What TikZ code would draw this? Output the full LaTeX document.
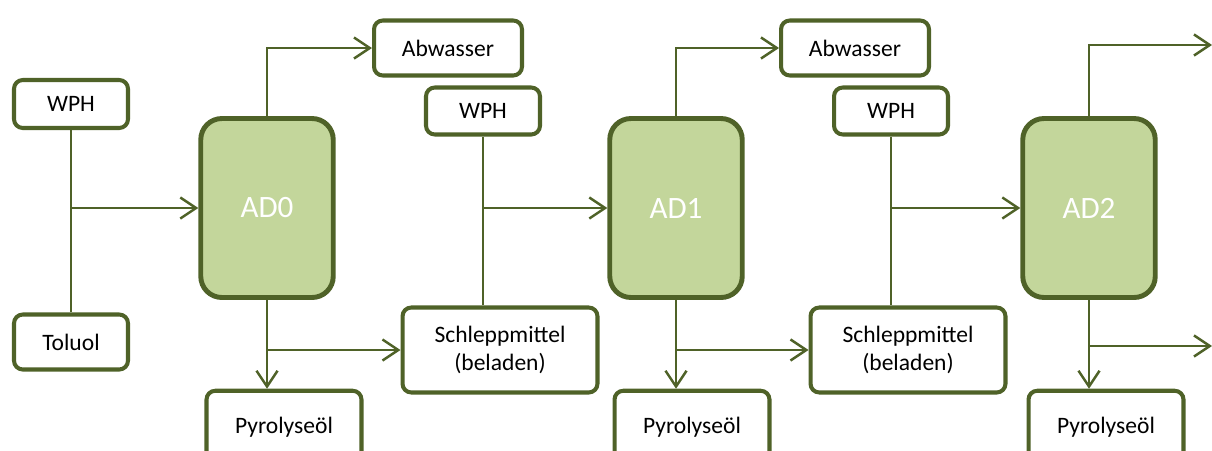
\documentclass[tikz,border=0pt]{standalone}
\usepackage{fontspec}
\setmainfont{Carlito}
\usetikzlibrary{arrows.meta,calc}

\definecolor{olivedark}{HTML}{4F6228}
\definecolor{olivelight}{HTML}{C3D69B}

\tikzset{
  stream/.style={line width=2.3pt, rounded corners=5pt, fill=white,
    draw=olivedark, font=\fontsize{13.4}{15.5}\selectfont, align=center, inner sep=0pt},
  column/.style={draw=olivedark, line width=2.8pt, rounded corners=12pt, fill=olivelight,
    text=white, font=\fontsize{17.7}{20}\selectfont, minimum width=2.65cm, minimum height=3.58cm},
  flow/.style={draw=olivedark, line width=1.4pt},
  feed/.style={flow, -{Straight Barb[length=9pt,width=12pt,line width=1.4pt]}}
}

\begin{document}
\begin{tikzpicture}[x=0.02cm, y=-0.02cm]

    % --- Frame ---
    \useasboundingbox (0,0) rectangle (1212,450);

    % --- Feed streams ---
    \node[stream, minimum width=2.28cm, minimum height=0.96cm] (WPH0) at (71,104) {WPH};
    \node[stream, minimum width=2.28cm, minimum height=1.1cm] (Toluol) at (71,342) {Toluol};

    % --- Columns ---
    \node[column] (AD0) at (267,208) {AD0};
    \node[column] (AD1) at (676,208) {AD1};
    \node[column] (AD2) at (1089,208) {AD2};

    % --- Stage 1 streams ---
    \node[stream, minimum width=2.96cm, minimum height=1.1cm] (Abw1) at (448,48) {Abwasser};
    \node[stream, minimum width=2.28cm, minimum height=0.94cm] (WPH1) at (483,111) {WPH};
    \node[stream, minimum width=3.9cm, minimum height=1.7cm] (Schl1) at (500,350) {Schleppmittel\\(beladen)};
    \node[stream, minimum width=3.1cm, minimum height=1.45cm] (Pyro0) at (284,427) {Pyrolyseöl};

    % --- Stage 2 streams ---
    \node[stream, minimum width=2.96cm, minimum height=1.1cm] (Abw2) at (855,48) {Abwasser};
    \node[stream, minimum width=2.28cm, minimum height=0.94cm] (WPH2) at (891,111) {WPH};
    \node[stream, minimum width=3.9cm, minimum height=1.7cm] (Schl2) at (908,350) {Schleppmittel\\(beladen)};
    \node[stream, minimum width=3.1cm, minimum height=1.45cm] (Pyro1) at (692,427) {Pyrolyseöl};

    % --- Stage 3 streams ---
    \node[stream, minimum width=3.1cm, minimum height=1.45cm] (Pyro2) at (1106,427) {Pyrolyseöl};
    \coordinate (Out2top) at (1212,45);
    \coordinate (Out2bot) at (1212,346);

    % --- Feed into AD0 ---
    \draw[flow] (WPH0) -- (Toluol);
    \draw[feed] (WPH0 |- AD0.west) -- (AD0.west);

    % --- Column outlets ---
    \foreach \col/\abw/\pyro/\schl in {AD0/Abw1/Pyro0/Schl1, AD1/Abw2/Pyro1/Schl2}{
      \draw[feed] (\col.north) |- (\abw.west);
      \draw[feed] (\col.south) -- (\col.south |- \pyro.north);
      \draw[feed] (\col.south |- \schl.west) -- (\schl.west);
    }
    \draw[feed] (AD2.north) |- (Out2top);
    \draw[feed] (AD2.south) -- (AD2.south |- Pyro2.north);
    \draw[feed] (AD2.south |- Out2bot) -- (Out2bot);

    % --- Recycled solvent into next column ---
    \draw[flow] (WPH1) -- (WPH1 |- Schl1.north);
    \draw[feed] (WPH1 |- AD1.west) -- (AD1.west);
    \draw[flow] (WPH2) -- (WPH2 |- Schl2.north);
    \draw[feed] (WPH2 |- AD2.west) -- (AD2.west);

\end{tikzpicture}
\end{document}
